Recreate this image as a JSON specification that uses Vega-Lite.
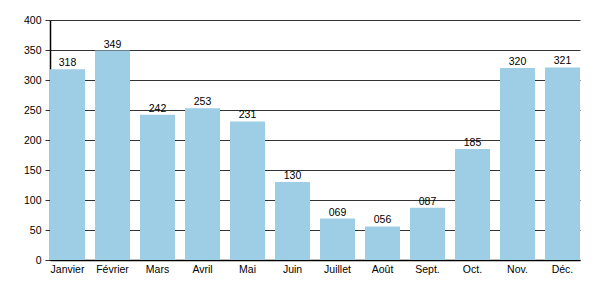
{
  "$schema": "https://vega.github.io/schema/vega-lite/v6.json",
  "width": 530,
  "height": 240,
  "autosize": {"type": "none"},
  "padding": {"left": 50, "top": 20, "right": 20, "bottom": 40},
  "background": "white",
  "config": {
    "view": {"stroke": null},
    "font": "Liberation Sans"
  },
  "data": {
    "values": [
      {"mois": "Janvier", "v": 318},
      {"mois": "Février", "v": 349},
      {"mois": "Mars", "v": 242},
      {"mois": "Avril", "v": 253},
      {"mois": "Mai", "v": 231},
      {"mois": "Juin", "v": 130},
      {"mois": "Juillet", "v": 69},
      {"mois": "Août", "v": 56},
      {"mois": "Sept.", "v": 87},
      {"mois": "Oct.", "v": 185},
      {"mois": "Nov.", "v": 320},
      {"mois": "Déc.", "v": 321}
    ]
  },
  "encoding": {
    "x": {
      "field": "mois", "type": "nominal", "sort": null,
      "scale": {"paddingInner": 0.222, "paddingOuter": 0},
      "axis": {"title": null, "labelAngle": 0, "ticks": false, "labelPadding": 4, "labelFontSize": 10.5, "labelColor": "#000", "domainColor": "#000", "domainWidth": 1.5}
    },
    "y": {
      "field": "v", "type": "quantitative",
      "scale": {"domain": [0, 400]},
      "axis": {"title": null, "values": [0, 50, 100, 150, 200, 250, 300, 350, 400], "gridColor": "#333", "gridOpacity": 1, "tickColor": "#333", "tickSize": 5, "labelFontSize": 10.5, "labelColor": "#000", "labelPadding": 4, "domainColor": "#000", "domainWidth": 1.5}
    }
  },
  "layer": [
    {"mark": {"type": "bar", "color": "#9ecde6"}},
    {
      "mark": {"type": "text", "dy": -6, "fontSize": 10.5, "color": "#000"},
      "encoding": {"text": {"field": "v", "type": "quantitative", "format": "03d"}}
    }
  ]
}
